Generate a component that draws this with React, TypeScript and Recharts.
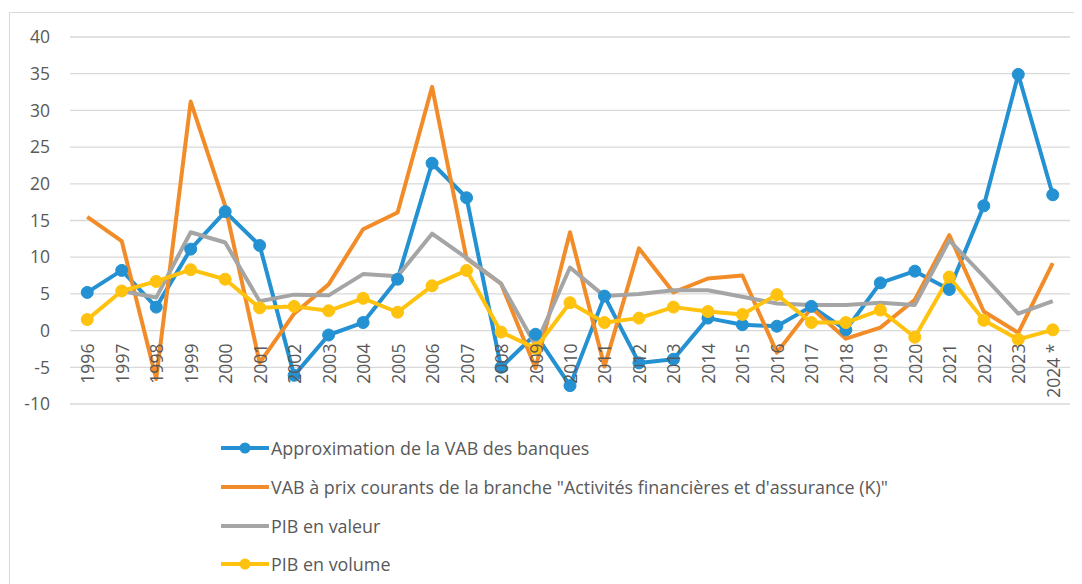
import { LineChart, Line, XAxis, YAxis, CartesianGrid } from 'recharts';

const years = [
  '1996', '1997', '1998', '1999', '2000', '2001', '2002', '2003', '2004', '2005',
  '2006', '2007', '2008', '2009', '2010', '2011', '2012', '2013', '2014', '2015',
  '2016', '2017', '2018', '2019', '2020', '2021', '2022', '2023', '2024 *',
];

const vabBanques = [
  5.2, 8.2, 3.2, 11.1, 16.2, 11.6, -6.1, -0.6, 1.1, 7.0,
  22.8, 18.1, -5.0, -0.5, -7.5, 4.7, -4.4, -3.9, 1.7, 0.8,
  0.6, 3.3, 0.1, 6.5, 8.1, 5.6, 17.0, 34.9, 18.5,
];

const vabBrancheK = [
  15.5, 12.2, -6.6, 31.2, 17.0, -4.4, 2.3, 6.3, 13.8, 16.1,
  33.2, 9.8, 6.4, -5.1, 13.4, -4.9, 11.2, 5.2, 7.1, 7.5,
  -3.0, 3.1, -1.1, 0.4, 4.2, 13.0, 2.6, -0.3, 9.2,
];

const pibValeur = [
  null, 5.4, 4.5, 13.4, 12.0, 4.0, 4.9, 4.8, 7.7, 7.4,
  13.2, 9.9, 6.4, -2.0, 8.6, 4.7, 5.0, 5.5, 5.5, 4.6,
  3.7, 3.5, 3.5, 3.8, 3.5, 12.3, 7.4, 2.3, 4.0,
];

const pibVolume = [
  1.5, 5.4, 6.7, 8.3, 7.0, 3.1, 3.3, 2.7, 4.4, 2.5,
  6.1, 8.2, -0.2, -2.4, 3.8, 1.1, 1.7, 3.2, 2.6, 2.2,
  4.9, 1.1, 1.1, 2.8, -0.9, 7.3, 1.4, -1.2, 0.1,
];

const yTicks = [-10, -5, 0, 5, 10, 15, 20, 25, 30, 35, 40];

const series = [
  { key: 'banques', name: 'Approximation de la VAB des banques', color: '#2391D2', marker: true },
  { key: 'brancheK', name: 'VAB à prix courants de la branche "Activités financières et d\'assurance (K)"', color: '#F28C28', marker: false },
  { key: 'pibValeur', name: 'PIB en valeur', color: '#A5A5A5', marker: false },
  { key: 'pibVolume', name: 'PIB en volume', color: '#FFC20E', marker: true },
];

const data = years.map((year, i) => ({
  year,
  banques: vabBanques[i],
  brancheK: vabBrancheK[i],
  pibValeur: pibValeur[i],
  pibVolume: pibVolume[i],
}));

const FONT = '"Open Sans", sans-serif';
const TEXT = '#595959';
const CHART_W = 1066;
const CHART_H = 416;
const M_TOP = 29;
const PLOT_H = 367;
const HALF_BAND = 1000 / 29 / 2;

// year labels sit just under the zero line, like Excel's category axis
function YearTick(props: any) {
  const { x, payload } = props;
  const zeroY = M_TOP + (PLOT_H * 40) / 50;
  const y = zeroY + 13;
  return (
    <text
      x={x}
      y={y}
      transform={`rotate(-90, ${x}, ${y})`}
      textAnchor="end"
      dominantBaseline="central"
      fill={TEXT}
      fontSize={17.5}
      fontFamily={FONT}
    >
      {payload.value}
    </text>
  );
}

export default function App() {
  return (
    <div style={{ position: 'relative', width: 1100, height: 576, fontFamily: FONT }}>
      <div
        style={{
          position: 'absolute',
          left: 1,
          top: 4,
          width: 1100,
          height: 600,
          borderLeft: '1px solid #d9d9d9',
          borderTop: '1px solid #d9d9d9',
        }}
      />
      <div style={{ position: 'absolute', left: 0, top: 0 }}>
        <LineChart
          width={CHART_W}
          height={CHART_H}
          data={data}
          margin={{ top: M_TOP, right: 4, bottom: 0, left: 12 }}
        >
          <CartesianGrid vertical={false} stroke="#d9d9d9" strokeWidth={1.3} />
          <XAxis
            dataKey="year"
            axisLine={false}
            tickLine={false}
            interval={0}
            height={20}
            padding={{ left: HALF_BAND, right: HALF_BAND }}
            tick={<YearTick />}
          />
          <YAxis
            domain={[-10, 40]}
            ticks={yTicks}
            axisLine={false}
            tickLine={false}
            tickSize={0}
            tickMargin={20}
            width={50}
            tick={{ fill: TEXT, fontSize: 17.5, fontFamily: FONT }}
          />
          {series.map((s) => (
            <Line
              key={s.key}
              type="linear"
              dataKey={s.key}
              name={s.name}
              stroke={s.color}
              strokeWidth={4}
              strokeLinejoin="round"
              dot={s.marker ? { r: 6, fill: s.color, stroke: s.color, strokeWidth: 1 } : false}
              activeDot={false}
              isAnimationActive={false}
            />
          ))}
        </LineChart>
      </div>
      <div style={{ position: 'absolute', left: 213, top: 421 }}>
        {series.map((s) => (
          <div key={s.key} style={{ display: 'flex', alignItems: 'center', height: 38.7 }}>
            <svg width={48} height={14}>
              <line x1={1} y1={7} x2={47} y2={7} stroke={s.color} strokeWidth={4} strokeLinecap="round" />
              {s.marker && <circle cx={24} cy={7} r={5.5} fill={s.color} />}
            </svg>
            <span style={{ color: TEXT, fontSize: 17.9, marginLeft: 2, whiteSpace: 'nowrap' }}>{s.name}</span>
          </div>
        ))}
      </div>
    </div>
  );
}
